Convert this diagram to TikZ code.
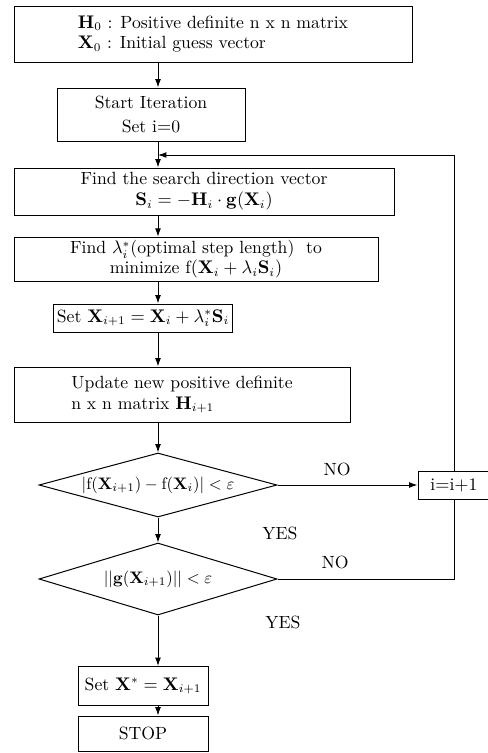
\documentclass[tikz,border=0pt]{standalone}
\usetikzlibrary{shapes.geometric,arrows.meta}
\begin{document}
\begin{tikzpicture}[x=0.6pt,y=-0.6pt,>={Latex[length=5pt,width=3.5pt]},
  every node/.style={font=\fontsize{10.6}{12.5}\selectfont},
  box/.style={draw,line width=0.6pt,inner sep=2pt},
  test/.style={draw,diamond,line width=0.6pt,inner sep=0pt,font=\normalsize},
  flow/.style={->,line width=0.6pt}]
  \def\px{0.6pt}     % one pixel of the scanned figure
  \useasboundingbox (0,0) rectangle (488,753);

  % main column, every arrow runs down this line
  \coordinate (axis) at (158,0);
  \coordinate (join) at (158,155);

  \node[box,align=left,minimum width=398*\px,minimum height=56*\px] (init) at (213,34)
    {$\mathbf{H}_0$ : Positive definite n x n matrix\\
     $\mathbf{X}_0$ : Initial guess vector};
  \node[box,align=center,minimum width=188*\px,minimum height=53*\px] (start) at (151,114.5)
    {Start Iteration\\[2pt] Set i$=$0};
  \node[box,align=center,minimum width=380*\px,minimum height=47*\px] (dir) at (204,191.5)
    {Find the search direction vector\\[0pt]
     $\mathbf{S}_i=-\mathbf{H}_i\cdot\mathbf{g}(\mathbf{X}_i)$};
  \node[box,align=center,minimum width=364*\px,minimum height=43*\px] (lambda) at (196,259.5)
    {Find $\lambda_i^*$(optimal step length)\ \ to\\[-0.5pt]
     minimize f$(\mathbf{X}_i+\lambda_i\mathbf{S}_i)$};
  \node[box,minimum width=170*\px,minimum height=28*\px] (newx) at (143,318)
    {Set $\mathbf{X}_{i+1}=\mathbf{X}_i+\lambda_i^*\mathbf{S}_i$};
  \node[box,align=left,minimum width=336*\px,minimum height=55*\px] (newh) at (182,394.5)
    {Update new positive definite\\[0pt] n x n matrix $\mathbf{H}_{i+1}$};

  % the two tests
  \node[test,aspect=3.7,minimum width=238*\px,minimum height=64*\px] (conv) at (158,485)
    {$|\mathrm{f}(\mathbf{X}_{i+1})-\mathrm{f}(\mathbf{X}_i)|<\varepsilon$};
  \node[test,aspect=3.3,minimum width=238*\px,minimum height=72*\px] (grad) at (158,579)
    {$||\mathbf{g}(\mathbf{X}_{i+1})||<\varepsilon$};

  \node[box,minimum width=72*\px,minimum height=28*\px] (incr) at (454,485) {i$=$i$+$1};

  \node[box,minimum width=130*\px,minimum height=39*\px] (xstar) at (143,686)
    {Set $\mathbf{X}^*=\mathbf{X}_{i+1}$};
  \node[box,minimum width=130*\px,minimum height=35*\px] (stop) at (143,733.5) {STOP};

  % branch labels
  \node (no1) at (337,469) {NO};
  \node (yes1) at (280,533) {YES};
  \node (no2) at (335,562) {NO};
  \node (yes2) at (283,622) {YES};

  % connectors
  \draw[flow] (init.south -| axis) -- (start.north -| axis);
  \draw[flow] (start.south -| axis) -- (dir.north -| axis);
  \draw[flow] (dir.south -| axis) -- (lambda.north -| axis);
  \draw[flow] (lambda.south -| axis) -- (newx.north -| axis);
  \draw[flow] (newx.south -| axis) -- (newh.north -| axis);
  \draw[flow] (newh.south -| axis) -- (conv.north);
  \draw[flow] (conv.south) -- (grad.north);
  \draw[flow] (conv.east) -- (incr.west);
  \draw[line width=0.6pt] (grad.east) -| (incr.south);
  \draw[flow] (incr.north) |- (join);
  \draw[flow] (grad.south) -- (xstar.north -| axis);
  \draw[flow] (xstar.south -| axis) -- (stop.north -| axis);
\end{tikzpicture}
\end{document}
